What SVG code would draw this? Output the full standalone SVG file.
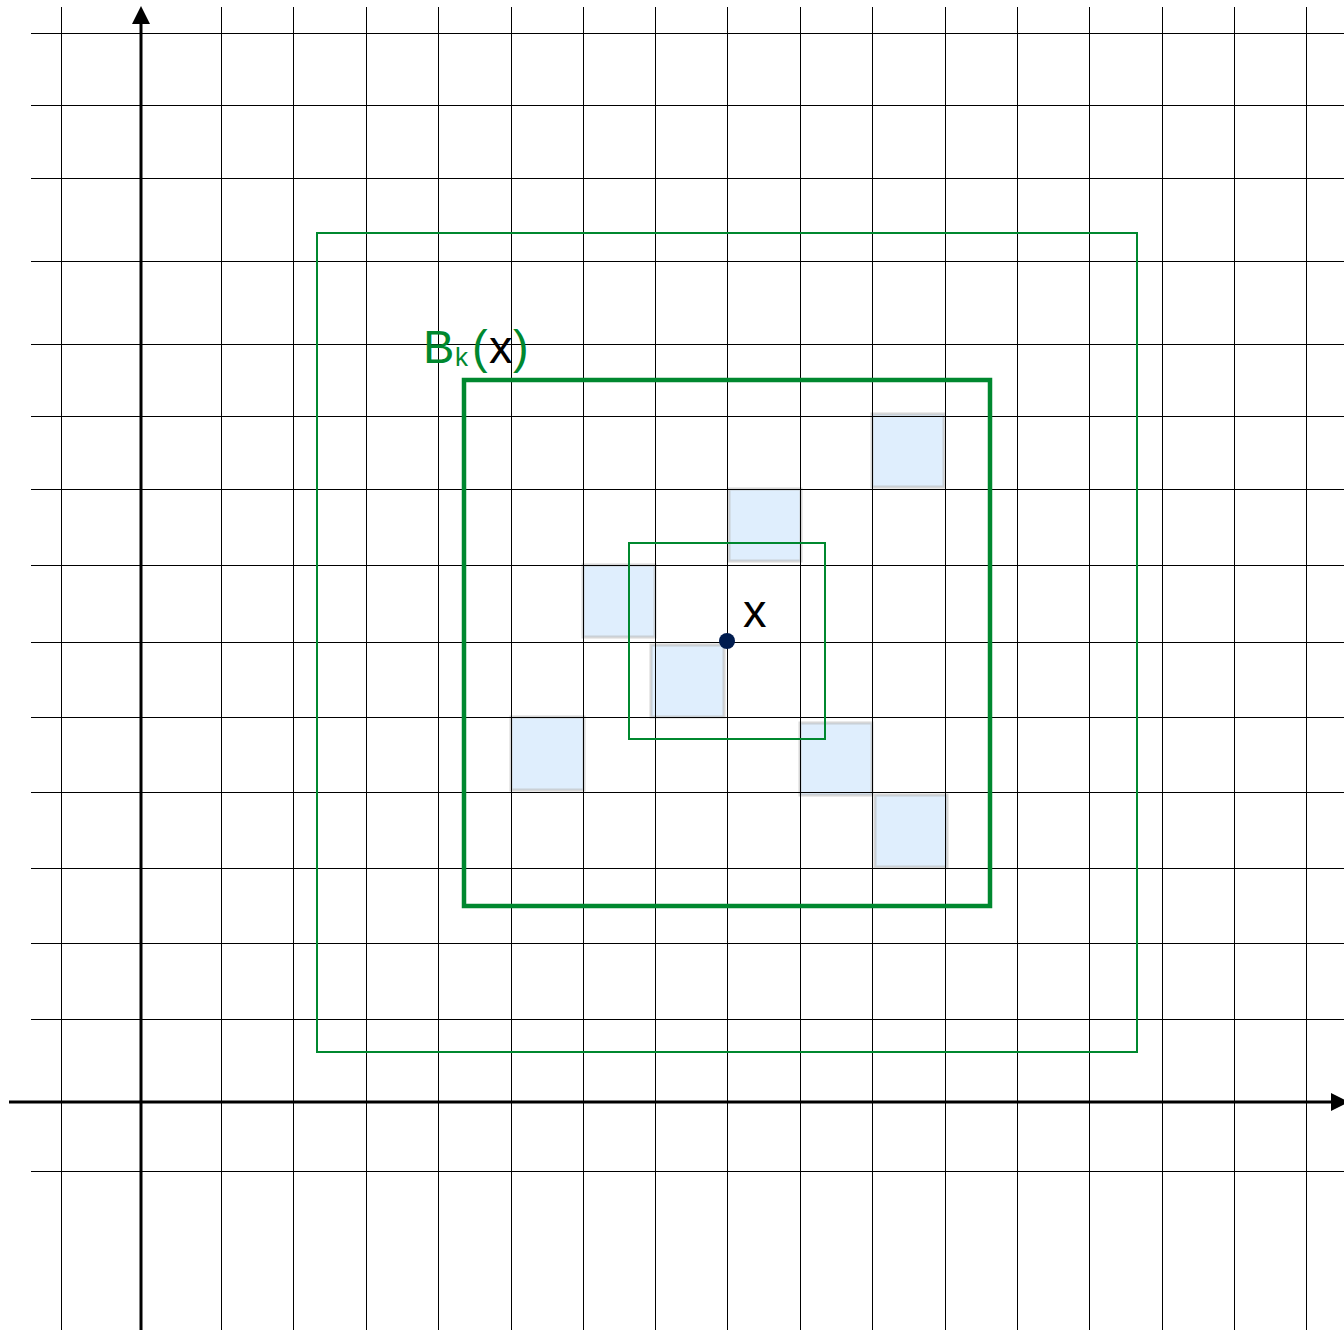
<svg xmlns="http://www.w3.org/2000/svg" width="1344" height="1330" viewBox="0 0 1344 1330">
<style>
.grid line{stroke:#000;stroke-width:1;shape-rendering:crispEdges}
.cell{fill:#dfeefd;stroke:#bdbdbd;stroke-opacity:0.6;stroke-width:3}
.box{fill:none;stroke:#00882f}
.axis{stroke:#000;stroke-width:3}
.lbl{font-family:"Liberation Sans",Arial,sans-serif;font-size:47px}
</style>
<defs>
<marker id="arr" markerWidth="6" markerHeight="6" refX="1" refY="3" orient="auto" markerUnits="strokeWidth" viewBox="0 0 6 6">
<path d="M0,0 L6,3 L0,6 Z" fill="#000"/>
</marker>
</defs>
<rect width="1344" height="1330" fill="#fff"/>
<g id="cells">
<rect class="cell" x="872" y="414" width="72" height="73"/>
<rect class="cell" x="729" y="489" width="72" height="72"/>
<rect class="cell" x="583" y="565" width="72" height="72"/>
<rect class="cell" x="651" y="645" width="73" height="72"/>
<rect class="cell" x="511" y="717" width="73" height="73"/>
<rect class="cell" x="800" y="723" width="72" height="72"/>
<rect class="cell" x="875" y="795" width="72" height="72"/>
</g>
<g id="grid" class="grid">
<line x1="61" y1="7" x2="61" y2="1330"/>
<line x1="221" y1="7" x2="221" y2="1330"/>
<line x1="293" y1="7" x2="293" y2="1330"/>
<line x1="366" y1="7" x2="366" y2="1330"/>
<line x1="438" y1="7" x2="438" y2="1330"/>
<line x1="511" y1="7" x2="511" y2="1330"/>
<line x1="583" y1="7" x2="583" y2="1330"/>
<line x1="655" y1="7" x2="655" y2="1330"/>
<line x1="727" y1="7" x2="727" y2="1330"/>
<line x1="800" y1="7" x2="800" y2="1330"/>
<line x1="872" y1="7" x2="872" y2="1330"/>
<line x1="945" y1="7" x2="945" y2="1330"/>
<line x1="1017" y1="7" x2="1017" y2="1330"/>
<line x1="1089" y1="7" x2="1089" y2="1330"/>
<line x1="1162" y1="7" x2="1162" y2="1330"/>
<line x1="1234" y1="7" x2="1234" y2="1330"/>
<line x1="1306" y1="7" x2="1306" y2="1330"/>
<line x1="31" y1="33" x2="1344" y2="33"/>
<line x1="31" y1="105" x2="1344" y2="105"/>
<line x1="31" y1="178" x2="1344" y2="178"/>
<line x1="31" y1="261" x2="1344" y2="261"/>
<line x1="31" y1="344" x2="1344" y2="344"/>
<line x1="31" y1="416" x2="1344" y2="416"/>
<line x1="31" y1="489" x2="1344" y2="489"/>
<line x1="31" y1="565" x2="1344" y2="565"/>
<line x1="31" y1="642" x2="1344" y2="642"/>
<line x1="31" y1="717" x2="1344" y2="717"/>
<line x1="31" y1="792" x2="1344" y2="792"/>
<line x1="31" y1="868" x2="1344" y2="868"/>
<line x1="31" y1="943" x2="1344" y2="943"/>
<line x1="31" y1="1019" x2="1344" y2="1019"/>
<line x1="31" y1="1171" x2="1344" y2="1171"/>
</g>
<g id="connectors">
<line class="axis" x1="141" y1="1330" x2="141" y2="21" marker-end="url(#arr)"/>
<line class="axis" x1="9" y1="1102" x2="1334" y2="1102" marker-end="url(#arr)"/>
</g>
<g id="outer-box"><rect class="box" x="317" y="233" width="820" height="819" stroke-width="2"/></g>
<g id="bk-box"><rect class="box" x="464" y="380" width="526" height="526" stroke-width="4.5"/></g>
<g id="inner-box"><rect class="box" x="629" y="543" width="196" height="196" stroke-width="2"/></g>
<g id="point">
<circle cx="727" cy="641" r="8" fill="#001c4f"/>
<text class="lbl" x="743" y="627" fill="#000">x</text>
</g>
<g id="bk-label">
<text class="lbl" y="363"><tspan x="423" fill="#00882f">B</tspan><tspan x="455" y="366" font-size="26" fill="#00882f">k</tspan><tspan x="472" y="363" fill="#00882f">(</tspan><tspan x="489" fill="#000">x</tspan><tspan x="513" fill="#00882f">)</tspan></text>
</g>
</svg>
